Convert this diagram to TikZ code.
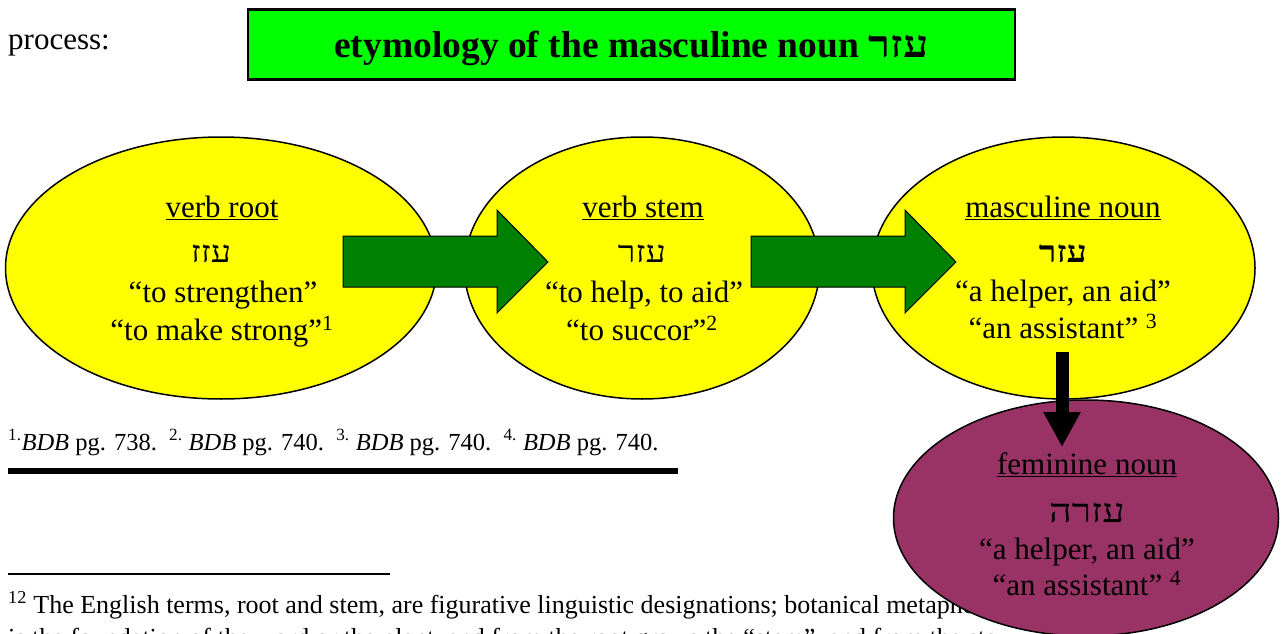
\documentclass[tikz,border=0pt]{standalone}
\usepackage{fontspec}
\usepackage{xcolor}
\usepackage{tikz}
\usetikzlibrary{shapes.geometric,arrows.meta}
\setmainfont{Liberation Serif}
\newfontfamily\hebfont[Script=Hebrew,FakeStretch=1.2]{Liberation Serif}
\TeXXeTstate=1
\definecolor{bubbleyellow}{HTML}{FFFF00}
\definecolor{titlegreen}{HTML}{00FF00}
\definecolor{arrowgreen}{HTML}{008000}
\definecolor{nounmaroon}{HTML}{993366}
\tikzset{
  bubble/.style={ellipse,draw=black,line width=1.5pt,inner sep=0pt},
  gloss/.style={anchor=base,inner sep=0pt,font=\fontsize{31}{37}\selectfont},
  hebrew/.style={anchor=base,inner sep=0pt,font=\fontsize{30}{36}\selectfont\hebfont},
  fatarrow/.style={fill=arrowgreen,draw=black,line width=1pt},
  note/.style={anchor=base west,inner sep=0pt,font=\fontsize{26}{30}\selectfont},
  titlebox/.style={draw=black,line width=2.5pt,fill=titlegreen,inner sep=0pt,
    minimum width=767pt,minimum height=70pt,text height=32pt,text depth=5pt,
    font=\fontsize{37.5}{42}\selectfont\bfseries},
}

\begin{document}
\begin{tikzpicture}[x=1pt,y=-1pt]
  \clip (0,0) rectangle (1283,634);
  \fill[white] (0,0) rectangle (1283,634);

  \node[anchor=base west,inner sep=0pt,font=\fontsize{31}{37}\selectfont] (process) at (8,50) {process:};
  \node[titlebox] (title) at (631.5,44.5) {etymology of the masculine noun {\hebfont\beginR עזר\endR}};

  \node[note] (fn1) at (8,613) {\textsuperscript{12} The English terms, root and stem, are figurative linguistic designations; botanical metaphors};
  \node[note] (fn2) at (8,646) {is the foundation of the word or the plant, and from the root grows the “stem”, and from the ste};
  \draw[line width=1.5pt] (8,574) -- (390,574);

  \node[note,font=\fontsize{24.5}{30}\selectfont] (refs) at (8,450) {\textsuperscript{1.}\textit{BDB} pg. 738.\enspace\textsuperscript{2.} \textit{BDB} pg. 740.\enspace\textsuperscript{3.} \textit{BDB} pg. 740.\enspace\textsuperscript{4.} \textit{BDB} pg. 740.};
  \draw[line width=6pt] (8,471) -- (678,471);

  \node[bubble,fill=bubbleyellow,minimum width=431pt,minimum height=262pt] (root) at (221,268) {};
  \node[bubble,fill=bubbleyellow,minimum width=355pt,minimum height=262pt] (stem) at (642,268) {};
  \node[bubble,fill=bubbleyellow,minimum width=383pt,minimum height=262pt] (masc) at (1063.5,268) {};
  \node[bubble,fill=nounmaroon,minimum width=385pt,minimum height=236pt] (fem) at (1086,518) {};

  \filldraw[fatarrow] (343,236) -- (497,236) -- (497,210) -- (548,262) -- (497,313) -- (497,287) -- (343,287) -- cycle;
  \filldraw[fatarrow] (751,236) -- (905,236) -- (905,210) -- (956,262) -- (905,313) -- (905,287) -- (751,287) -- cycle;

  \coordinate (down-start) at (1062,352);
  \coordinate (down-end) at (1062,447);
  \draw[line width=13pt,-{Triangle[width=35pt,length=35pt]}] (down-start) -- (down-end);

  \node[gloss] (root-name) at (222,217) {\underline{verb root}};
  \node[hebrew] (root-heb) at (211,262) {\beginR עזז\endR};
  \node[gloss] (root-l1) at (223,302) {“to strengthen”};
  \node[gloss] (root-l2) at (222,340) {“to make strong”\textsuperscript{1}};

  \node[gloss] (stem-name) at (643,217) {\underline{verb stem}};
  \node[hebrew] (stem-heb) at (642,262) {\beginR עזר\endR};
  \node[gloss] (stem-l1) at (644,302) {“to help, to aid”};
  \node[gloss] (stem-l2) at (642,340) {“to succor”\textsuperscript{2}};

  \node[gloss] (masc-name) at (1063,217) {\underline{masculine noun}};
  \node[hebrew,font=\fontsize{30}{36}\selectfont\hebfont\bfseries] (masc-heb) at (1063,262) {\beginR עזר\endR};
  \node[gloss] (masc-l1) at (1063,301) {“a helper, an aid”};
  \node[gloss] (masc-l2) at (1063,338) {“an assistant” \textsuperscript{3}};

  \node[gloss] (fem-name) at (1087,474) {\underline{feminine noun}};
  \node[hebrew,font=\fontsize{33}{38}\selectfont\hebfont] (fem-heb) at (1087,522) {\beginR עזרה\endR};
  \node[gloss] (fem-l1) at (1087,559) {“a helper, an aid”};
  \node[gloss] (fem-l2) at (1087,595) {“an assistant” \textsuperscript{4}};
\end{tikzpicture}
\end{document}
